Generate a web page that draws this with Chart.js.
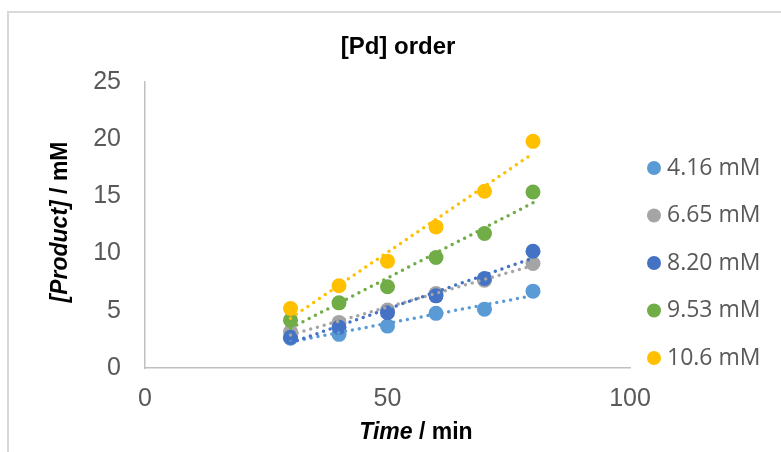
<!DOCTYPE html>
<html>
<head>
<meta charset="utf-8">
<script src="https://cdn.jsdelivr.net/npm/chart.js@4.4.1/dist/chart.umd.min.js"></script>
<style>
  html, body { margin: 0; padding: 0; background: #ffffff; overflow: hidden; }
  #wrap { position: relative; width: 781px; height: 452px; }
  #frame { position: absolute; left: 7px; top: 11px; width: 900px; height: 600px; border: 2px solid #D9D9D9; box-sizing: border-box; }
  #c { position: absolute; left: 0; top: 0; }
</style>
</head>
<body>
<div id="wrap">
  <div id="frame"></div>
  <canvas id="c" width="781" height="452"></canvas>
</div>
<script>
// ---- Data ----
const chartTitle = '[Pd] order';
const timeMin = [30, 40, 50, 60, 70, 80];
const seriesLabels = ['4.16 mM', '6.65 mM', '8.20 mM', '9.53 mM', '10.6 mM'];
const product416 = [2.60, 2.94, 3.66, 4.77, 5.14, 6.71];
const product665 = [3.16, 3.98, 5.06, 6.51, 7.67, 9.13];
const product820 = [2.68, 3.55, 4.82, 6.30, 7.82, 10.20];
const product953 = [4.18, 5.69, 7.09, 9.65, 11.74, 15.37];
const product106 = [5.20, 7.18, 9.33, 12.32, 15.43, 19.79];
const xTickValues = [0, 50, 100];
const yTickValues = [0, 5, 10, 15, 20, 25];
const seriesColors = ['#5B9BD5', '#A5A5A5', '#4472C4', '#70AD47', '#FFC000'];

const seriesValues = [product416, product665, product820, product953, product106];

// Linear least-squares trendline (Excel "Linear" trendline) from the data
function linearFit(xs, ys) {
  const n = xs.length;
  const mx = xs.reduce((a, b) => a + b, 0) / n;
  const my = ys.reduce((a, b) => a + b, 0) / n;
  let sxy = 0, sxx = 0;
  for (let i = 0; i < n; i++) { sxy += (xs[i] - mx) * (ys[i] - my); sxx += (xs[i] - mx) * (xs[i] - mx); }
  const m = sxy / sxx, b = my - m * mx;
  const x0 = Math.min(...xs), x1 = Math.max(...xs);
  return [{ x: x0, y: m * x0 + b }, { x: x1, y: m * x1 + b }];
}

const datasets = [];
seriesValues.forEach((vals, i) => {
  datasets.push({
    type: 'scatter',
    label: seriesLabels[i],
    data: timeMin.map((t, k) => ({ x: t, y: vals[k] })),
    backgroundColor: seriesColors[i],
    borderColor: seriesColors[i],
    pointRadius: 7.5,
    pointHoverRadius: 7.5,
    borderWidth: 0,
    order: 20 - i
  });
});
seriesValues.forEach((vals, i) => {
  datasets.push({
    type: 'line',
    label: seriesLabels[i] + ' trend',
    data: linearFit(timeMin, vals),
    borderColor: seriesColors[i],
    borderWidth: 3.5,
    borderDash: [0, 7],
    borderCapStyle: 'round',
    pointRadius: 0,
    fill: false,
    tension: 0,
    order: 10 - i
  });
});

const textPlugin = {
  id: 'texts',
  afterDraw(chart) {
    const ctx = chart.ctx;
    ctx.save();
    // Title
    ctx.fillStyle = '#000000';
    ctx.font = 'bold 24px "Liberation Sans", Arial, sans-serif';
    ctx.textAlign = 'center';
    ctx.textBaseline = 'alphabetic';
    ctx.fillText(chartTitle, 398, 54);

    // helper: mixed italic/bold text centered
    function mixed(parts, cx, cy, rot) {
      ctx.save();
      ctx.translate(cx, cy);
      ctx.rotate(rot);
      let total = 0;
      parts.forEach(p => { ctx.font = p.font; total += ctx.measureText(p.text).width; });
      let x = -total / 2;
      ctx.textAlign = 'left';
      ctx.textBaseline = 'middle';
      parts.forEach(p => { ctx.font = p.font; ctx.fillText(p.text, x, 0); x += ctx.measureText(p.text).width; });
      ctx.restore();
    }
    const bi = 'italic bold 23px "Liberation Sans", Arial, sans-serif';
    const b = 'bold 23px "Liberation Sans", Arial, sans-serif';
    mixed([{ text: 'Time', font: bi }, { text: ' / min', font: b }], 416, 433, 0);
    mixed([{ text: '[Product]', font: bi }, { text: ' / mM', font: b }], 61, 222, -Math.PI / 2);

    // Legend
    ctx.font = '23px "Open Sans", "Noto Sans", sans-serif';
    ctx.textAlign = 'left';
    ctx.textBaseline = 'middle';
    seriesLabels.forEach((lab, i) => {
      const y = 168 + i * 47.5;
      ctx.beginPath();
      ctx.fillStyle = seriesColors[i];
      ctx.arc(654, y, 7, 0, Math.PI * 2);
      ctx.fill();
      ctx.fillStyle = '#595959';
      ctx.fillText(lab, 667, y);
    });
    ctx.restore();
  }
};

new Chart(document.getElementById('c'), {
  type: 'scatter',
  data: { datasets },
  options: {
    responsive: false,
    animation: false,
    devicePixelRatio: 1,
    layout: { padding: { left: 0, top: 81.7, right: 151, bottom: 0 } },
    plugins: { legend: { display: false }, title: { display: false }, tooltip: { enabled: false } },
    scales: {
      x: {
        type: 'linear', min: 0, max: 100,
        afterBuildTicks: s => { s.ticks = xTickValues.map(v => ({ value: v })); },
        afterFit: s => { s.height = 84; },
        grid: { display: false, drawTicks: false },
        border: { display: true, color: '#BFBFBF', width: 1.5 },
        ticks: { color: '#595959', padding: 16, font: { family: '"Liberation Sans", Arial, sans-serif', size: 25 }, maxRotation: 0 }
      },
      y: {
        type: 'linear', min: 0, max: 25,
        afterBuildTicks: s => { s.ticks = yTickValues.map(v => ({ value: v })); },
        afterFit: s => { s.width = 145; },
        grid: { display: false, drawTicks: false },
        border: { display: true, color: '#BFBFBF', width: 1.5 },
        ticks: { color: '#595959', padding: 24, font: { family: '"Liberation Sans", Arial, sans-serif', size: 25 } }
      }
    }
  },
  plugins: [textPlugin]
});
</script>
</body>
</html>
